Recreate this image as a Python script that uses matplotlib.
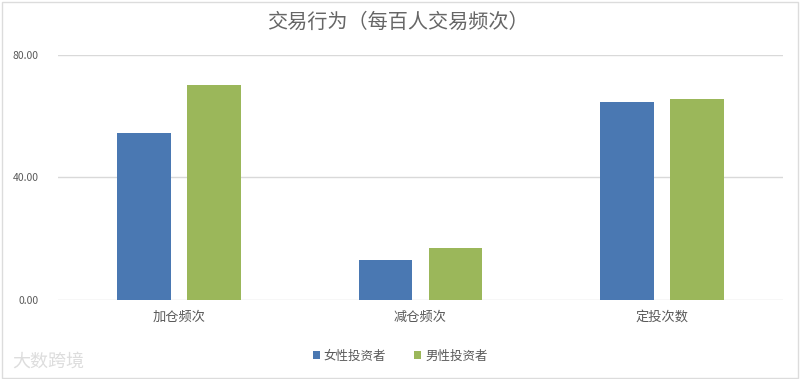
import matplotlib
matplotlib.use("Agg")
import matplotlib.pyplot as plt
from matplotlib.patches import Rectangle
import numpy as np

plt.rcParams['font.family'] = ['Noto Sans CJK SC', 'DejaVu Sans']

title = "交易行为（每百人交易频次）"
categories = ["加仓频次", "减仓频次", "定投次数"]
series_names = ["女性投资者", "男性投资者"]
female = [54.4, 13.0, 64.4]
male = [70.0, 17.0, 65.4]
yticks = [0, 40, 80]
ytick_labels = ["0.00", "40.00", "80.00"]

blue = "#4A78B2"
green = "#9BB75A"
grid_c = "#D9D9D9"
text_c = "#595959"

fig = plt.figure(figsize=(8.0, 3.79), dpi=100)
ax = fig.add_axes([0.0725, 0.2085, 0.906, 0.6475])

x = np.arange(len(categories))
w = 0.222
off = 0.145
ax.bar(x - off, female, width=w, color=blue, label=series_names[0], zorder=3)
ax.bar(x + off, male, width=w, color=green, label=series_names[1], zorder=3)

ax.set_xlim(-0.5, len(categories) - 0.5)
ax.set_ylim(0, 80)
ax.set_yticks(yticks)
ax.set_yticklabels(ytick_labels, fontsize=7.5, color=text_c)
ax.set_xticks(x)
ax.set_xticklabels(categories, fontsize=9.5, color=text_c)
ax.tick_params(axis='both', length=0)
ax.tick_params(axis='y', pad=14)
ax.tick_params(axis='x', pad=8)
ax.yaxis.grid(True, color=grid_c, linewidth=1.0, zorder=0)
for s in ax.spines.values():
    s.set_visible(False)

fig.text(0.497, 0.94, title, ha='center', va='center', fontsize=14.5,
         color="#666666")

leg = fig.legend(loc='center', bbox_to_anchor=(0.5, 0.06), ncol=2,
                 frameon=False, fontsize=9, handlelength=0.6,
                 handleheight=0.6, handletextpad=0.3, columnspacing=2.2)
for t in leg.get_texts():
    t.set_color(text_c)

fig.text(0.015, 0.045, "大数跨境", fontsize=13, color="#DDDDDD",
         ha='left', va='center')

fig.patches.append(Rectangle((0.002, 0.003), 0.995, 0.993, transform=fig.transFigure,
                             fill=False, edgecolor="#DCDCDC", linewidth=1.0))

fig.savefig("out.png", dpi=100)
